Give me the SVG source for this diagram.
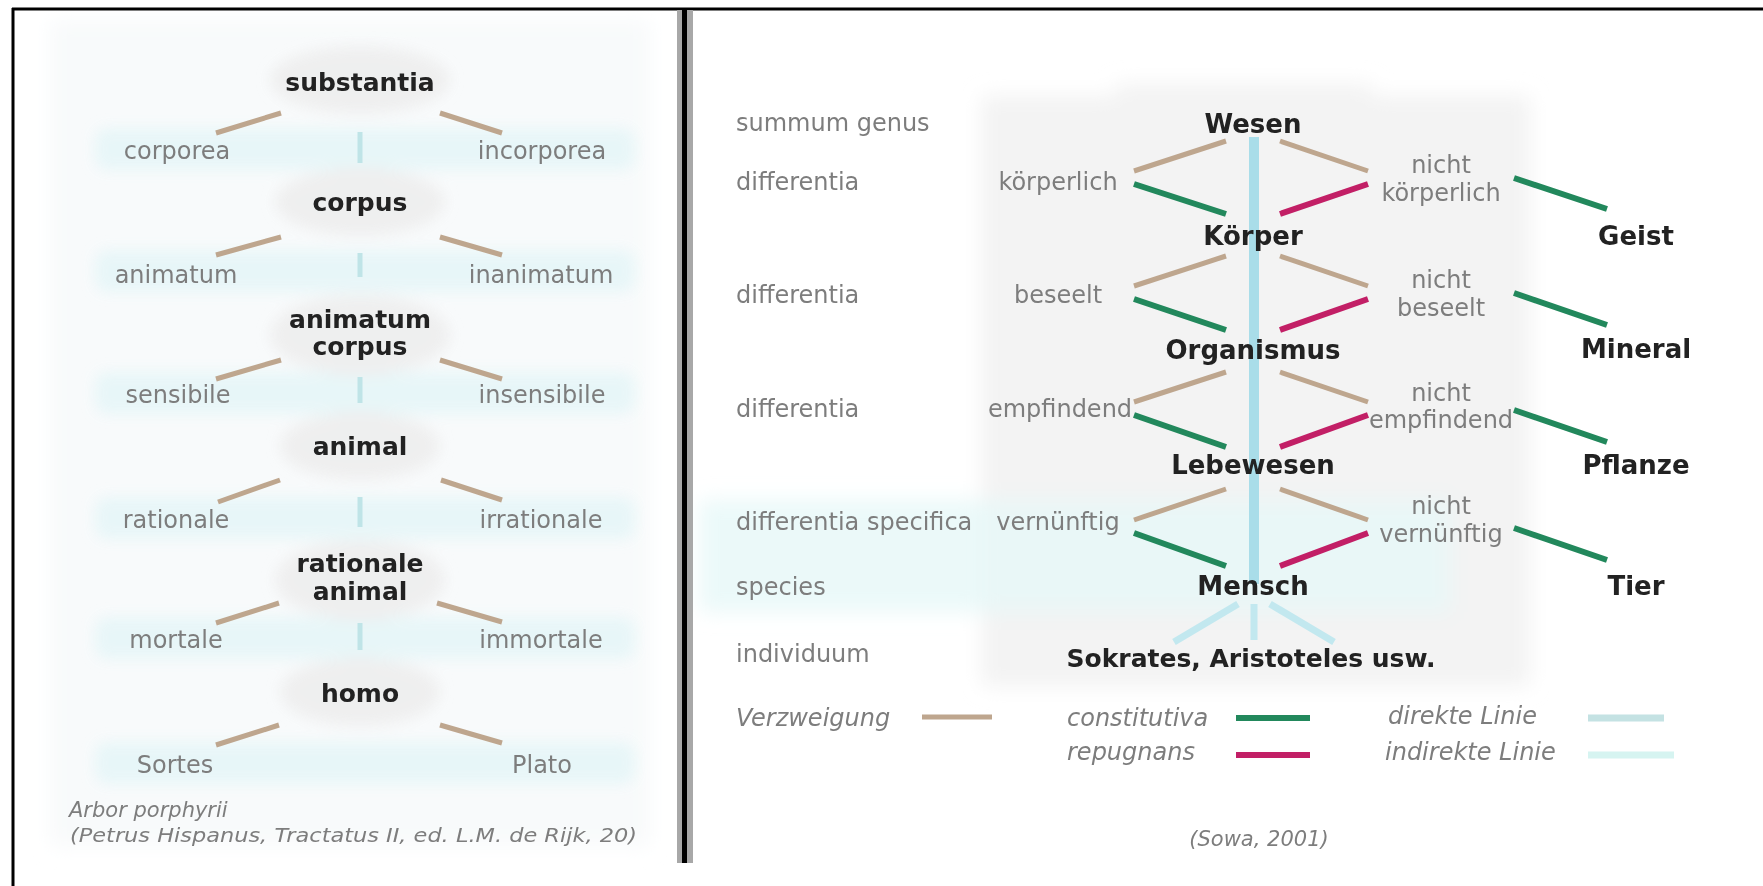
<svg xmlns="http://www.w3.org/2000/svg" width="1763" height="886" viewBox="0 0 1763 886">
  <defs>
    <filter id="soft" x="-20%" y="-50%" width="140%" height="200%">
      <feGaussianBlur stdDeviation="7"/>
    </filter>
    <filter id="haze" x="-10%" y="-10%" width="120%" height="120%">
      <feGaussianBlur stdDeviation="10"/>
    </filter>
    <filter id="glow" x="-200%" y="-5%" width="500%" height="110%">
      <feGaussianBlur stdDeviation="3"/>
    </filter>
  </defs>
  <style>
    .node { font-family: "DejaVu Sans", "Liberation Sans", sans-serif; font-weight: bold; font-size: 25px; fill: #222; text-anchor: middle; }
    .node2 { font-family: "DejaVu Sans", "Liberation Sans", sans-serif; font-weight: bold; font-size: 26px; fill: #222; text-anchor: middle; }
    .lbl { font-family: "DejaVu Sans", "Liberation Sans", sans-serif; font-size: 24px; fill: #7d7d7d; text-anchor: middle; }
    .row { font-family: "DejaVu Sans", "Liberation Sans", sans-serif; font-size: 24px; fill: #7d7d7d; }
    .note { font-family: "DejaVu Sans", "Liberation Sans", sans-serif; font-style: italic; fill: #7d7d7d; }
    .tan { stroke: #bea68e; stroke-width: 5; stroke-linecap: butt; fill: none; }
    .con { stroke: #22885c; stroke-width: 6; fill: none; }
    .rep { stroke: #c21f66; stroke-width: 6; fill: none; }
    .dir { stroke: #a9dde9; stroke-width: 10; fill: none; }
    .ind { stroke: #c2e8ef; stroke-width: 7; fill: none; }
    .stem { stroke: #bfe4e7; stroke-width: 5; fill: none; }
    .frame { stroke: #000; fill: none; }
  </style>

  <rect width="1763" height="886" fill="#fff"/>

  <!-- soft background panels -->
  <g id="backdrop">
    <rect x="50" y="20" width="600" height="826" fill="#f8fafb" filter="url(#haze)"/>
    <g filter="url(#soft)" opacity="0.9">
      <rect x="95" y="128" width="540" height="42" rx="12" fill="#e6f6f8"/>
      <rect x="95" y="250" width="540" height="42" rx="12" fill="#e6f6f8"/>
      <rect x="95" y="372" width="540" height="42" rx="12" fill="#e6f6f8"/>
      <rect x="95" y="497" width="540" height="42" rx="12" fill="#e6f6f8"/>
      <rect x="95" y="617" width="540" height="42" rx="12" fill="#e6f6f8"/>
      <rect x="95" y="742" width="540" height="42" rx="12" fill="#e6f6f8"/>
      <ellipse cx="360" cy="80" rx="90" ry="34" fill="#eeeeee"/>
      <ellipse cx="360" cy="202" rx="85" ry="34" fill="#eeeeee"/>
      <ellipse cx="360" cy="335" rx="90" ry="40" fill="#eeeeee"/>
      <ellipse cx="360" cy="446" rx="80" ry="34" fill="#eeeeee"/>
      <ellipse cx="360" cy="580" rx="85" ry="40" fill="#eeeeee"/>
      <ellipse cx="360" cy="692" rx="80" ry="34" fill="#eeeeee"/>
    </g>
    <g filter="url(#haze)">
      <rect x="982" y="96" width="548" height="590" fill="#f3f3f3"/>
      <rect x="1116" y="84" width="256" height="30" fill="#f3f3f3"/>
      <rect x="700" y="500" width="750" height="112" fill="#e6f7f8" opacity="0.8"/>
    </g>
  </g>

  <!-- frame and divider -->
  <g id="frame">
    <line class="frame" x1="12" y1="9" x2="1763" y2="9" stroke-width="3"/>
    <line class="frame" x1="13" y1="8" x2="13" y2="886" stroke-width="3"/>
    <rect x="677" y="10" width="16" height="853" fill="#a8a8a8"/>
    <rect x="682" y="10" width="5" height="853" fill="#000"/>
  </g>

  <!-- connectors -->
  <g id="connectors">
    <!-- Arbor porphyrii: branches -->
    <path class="tan" d="M216,133 L281,113 M440,113 L502,133"/>
    <path class="tan" d="M216,255 L281,237 M440,237 L502,255"/>
    <path class="tan" d="M216,379 L281,360 M440,360 L502,379"/>
    <path class="tan" d="M218,502 L280,480 M441,480 L502,500"/>
    <path class="tan" d="M216,623 L279,603 M437,603 L502,622"/>
    <path class="tan" d="M216,745 L279,725 M440,725 L502,743"/>
    <!-- Arbor porphyrii: stems -->
    <path class="stem" d="M360,132 V163 M360,253 V277 M360,377 V403 M360,497 V527 M360,623 V650"/>

    <!-- Sowa tree: direct line with a pale halo -->
    <line x1="1254" y1="137" x2="1254" y2="584" stroke="#d4f0f6" stroke-width="20" filter="url(#glow)"/>
    <line class="dir" x1="1254" y1="137" x2="1254" y2="584"/>
    <!-- indirect lines to individuals -->
    <path class="ind" d="M1238,604 L1174,642 M1254,604 V640 M1270,604 L1334,642"/>

    <!-- branching -->
    <path class="tan" d="M1134,171 L1226,141 M1280,141 L1368,171"/>
    <path class="tan" d="M1134,286 L1226,256 M1280,256 L1368,286"/>
    <path class="tan" d="M1134,402 L1226,372 M1280,372 L1368,402"/>
    <path class="tan" d="M1134,520 L1226,489 M1280,489 L1368,520"/>
    <!-- constitutiva -->
    <path class="con" d="M1134,184 L1226,214 M1134,299 L1226,330 M1134,415 L1226,447 M1134,533 L1226,566"/>
    <path class="con" d="M1514,178 L1607,209 M1514,293 L1607,325 M1514,410 L1607,442 M1514,528 L1607,560"/>
    <!-- repugnans -->
    <path class="rep" d="M1280,214 L1368,184 M1280,330 L1368,299 M1280,447 L1368,415 M1280,566 L1368,533"/>
  </g>

  <!-- Arbor porphyrii nodes -->
  <g id="n-substantia"><text class="node" x="360" y="91">substantia</text></g>
  <g id="n-corporea"><text class="lbl" x="177" y="159">corporea</text></g>
  <g id="n-incorporea"><text class="lbl" x="542" y="159">incorporea</text></g>
  <g id="n-corpus"><text class="node" x="360" y="211">corpus</text></g>
  <g id="n-animatum"><text class="lbl" x="176" y="283">animatum</text></g>
  <g id="n-inanimatum"><text class="lbl" x="541" y="283">inanimatum</text></g>
  <g id="n-animatum-corpus"><text class="node" x="360" y="328">animatum</text><text class="node" x="360" y="355">corpus</text></g>
  <g id="n-sensibile"><text class="lbl" x="178" y="403">sensibile</text></g>
  <g id="n-insensibile"><text class="lbl" x="542" y="403">insensibile</text></g>
  <g id="n-animal"><text class="node" x="360" y="455">animal</text></g>
  <g id="n-rationale"><text class="lbl" x="176" y="528">rationale</text></g>
  <g id="n-irrationale"><text class="lbl" x="541" y="528">irrationale</text></g>
  <g id="n-rationale-animal"><text class="node" x="360" y="572">rationale</text><text class="node" x="360" y="600">animal</text></g>
  <g id="n-mortale"><text class="lbl" x="176" y="648">mortale</text></g>
  <g id="n-immortale"><text class="lbl" x="541" y="648">immortale</text></g>
  <g id="n-homo"><text class="node" x="360" y="702">homo</text></g>
  <g id="n-sortes"><text class="lbl" x="175" y="773">Sortes</text></g>
  <g id="n-plato"><text class="lbl" x="542" y="773">Plato</text></g>
  <g id="caption-left">
    <text class="note" x="69" y="817" font-size="21">Arbor porphyrii</text>
    <text class="note" x="70" y="842" font-size="20" textLength="567" lengthAdjust="spacingAndGlyphs">(Petrus Hispanus, Tractatus II, ed. L.M. de Rijk, 20)</text>
  </g>

  <!-- Sowa: row names -->
  <g id="rows">
    <text class="row" x="736" y="131">summum genus</text>
    <text class="row" x="736" y="190">differentia</text>
    <text class="row" x="736" y="303">differentia</text>
    <text class="row" x="736" y="417">differentia</text>
    <text class="row" x="736" y="530">differentia specifica</text>
    <text class="row" x="736" y="595">species</text>
    <text class="row" x="736" y="662">individuum</text>
  </g>

  <!-- Sowa: nodes -->
  <g id="n-wesen"><text class="node2" x="1253" y="133">Wesen</text></g>
  <g id="n-koerperlich"><text class="lbl" x="1058" y="190">körperlich</text></g>
  <g id="n-nicht-koerperlich"><text class="lbl" x="1441" y="173">nicht</text><text class="lbl" x="1441" y="201">körperlich</text></g>
  <g id="n-geist"><text class="node2" x="1636" y="245">Geist</text></g>
  <g id="n-koerper"><text class="node2" x="1253" y="245">Körper</text></g>
  <g id="n-beseelt"><text class="lbl" x="1058" y="303">beseelt</text></g>
  <g id="n-nicht-beseelt"><text class="lbl" x="1441" y="288">nicht</text><text class="lbl" x="1441" y="316">beseelt</text></g>
  <g id="n-mineral"><text class="node2" x="1636" y="358">Mineral</text></g>
  <g id="n-organismus"><text class="node2" x="1253" y="359">Organismus</text></g>
  <g id="n-empfindend"><text class="lbl" x="1060" y="417">empfindend</text></g>
  <g id="n-nicht-empfindend"><text class="lbl" x="1441" y="401">nicht</text><text class="lbl" x="1441" y="428">empfindend</text></g>
  <g id="n-pflanze"><text class="node2" x="1636" y="474">Pflanze</text></g>
  <g id="n-lebewesen"><text class="node2" x="1253" y="474">Lebewesen</text></g>
  <g id="n-vernuenftig"><text class="lbl" x="1058" y="530">vernünftig</text></g>
  <g id="n-nicht-vernuenftig"><text class="lbl" x="1441" y="514">nicht</text><text class="lbl" x="1441" y="542">vernünftig</text></g>
  <g id="n-tier"><text class="node2" x="1636" y="595">Tier</text></g>
  <g id="n-mensch"><text class="node2" x="1253" y="595">Mensch</text></g>
  <g id="n-individuals"><text class="node" x="1251" y="667" font-size="24">Sokrates, Aristoteles usw.</text></g>

  <!-- legend -->
  <g id="legend">
    <text class="note" x="736" y="726" font-size="24">Verzweigung</text>
    <line class="tan" x1="922" y1="717" x2="992" y2="717" stroke-width="6"/>
    <text class="note" x="1067" y="726" font-size="24">constitutiva</text>
    <line class="con" x1="1236" y1="718" x2="1310" y2="718" stroke-width="7"/>
    <text class="note" x="1067" y="760" font-size="24">repugnans</text>
    <line class="rep" x1="1236" y1="755" x2="1310" y2="755" stroke-width="7"/>
    <text class="note" x="1388" y="724" font-size="24">direkte Linie</text>
    <line x1="1588" y1="718" x2="1664" y2="718" stroke="#c4e2e3" stroke-width="7"/>
    <text class="note" x="1385" y="760" font-size="24">indirekte Linie</text>
    <line x1="1588" y1="755" x2="1674" y2="755" stroke="#d6f4f1" stroke-width="7"/>
    <text class="note" x="1259" y="846" font-size="21" text-anchor="middle">(Sowa, 2001)</text>
  </g>
</svg>
